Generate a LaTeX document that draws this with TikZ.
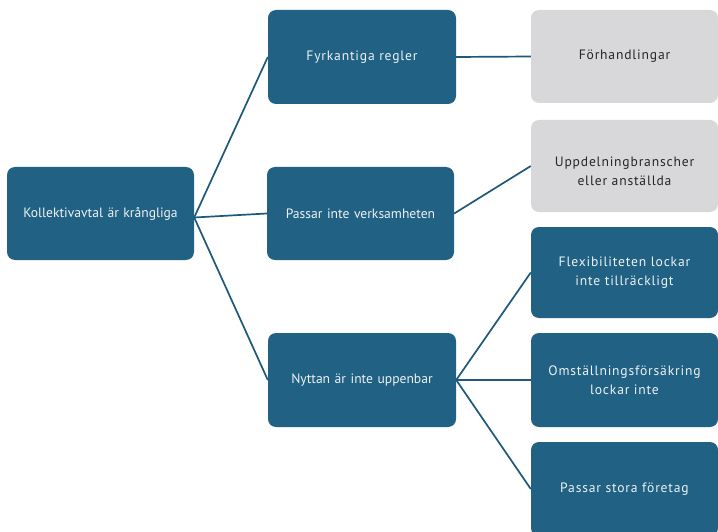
\documentclass[tikz,border=0pt]{standalone}
\usepackage{fontspec}
\setmainfont{PT Sans}
\newfontfamily\spaced[LetterSpace=6]{PT Sans}
\definecolor{boxblue}{HTML}{216183}
\definecolor{boxgray}{HTML}{D8D8DA}
\definecolor{linkblue}{HTML}{1F587A}
\begin{document}
\begin{tikzpicture}[x=1pt,y=-1pt,
  base/.style={rounded corners=8pt, inner sep=4pt, align=center, text width=178pt, font=\fontsize{13.6}{19}\selectfont},
  bluebox/.style={base, fill=boxblue, text=white!92!boxblue},
  graybox/.style={base, fill=boxgray, text=black!85},
  spacedtext/.style={font=\fontsize{13.6}{19}\spaced},
  link/.style={draw=linkblue, line width=1.7pt}]
\useasboundingbox (0,0) rectangle (718,532);
\node[bluebox, minimum width=187pt, minimum height=93pt] (root) at (100.5,213.5) {Kollektivavtal är krångliga};
\node[bluebox, spacedtext, minimum width=188pt, minimum height=94pt] (a) at (362,57) {Fyrkantiga regler};
\node[bluebox, minimum width=187pt, minimum height=93pt] (b) at (360.5,213.5) {Passar inte verksamheten};
\node[bluebox, minimum width=188pt, minimum height=94pt] (c) at (362,380) {Nyttan är inte uppenbar};
\node[graybox, spacedtext, minimum width=187pt, minimum height=93pt] (a1) at (624.5,56.5) {Förhandlingar};
\node[graybox, spacedtext, minimum width=187pt, minimum height=92pt] (b1) at (624.5,166) {};
\node[graybox, spacedtext, anchor=center, fill=none, minimum height=0pt, minimum width=0pt] (b1t) at (624.5,171) {Uppdelningbranscher\\eller anställda};
\node[bluebox, spacedtext, minimum width=187pt, minimum height=91pt] (c1) at (624.5,272.5) {Flexibiliteten lockar\\inte tillräckligt};
\node[bluebox, spacedtext, minimum width=187pt, minimum height=94pt] (c2) at (624.5,380) {Omställningsförsäkring\\lockar inte};
\node[bluebox, spacedtext, minimum width=187pt, minimum height=94pt] (c3) at (624.5,489) {Passar stora företag};
\coordinate (hub) at ([yshift=-4pt]root.east);
\draw[link] (hub) -- (a.west);
\draw[link] (hub) -- (b.west);
\draw[link] (hub) -- (c.west);
\draw[link] (a.east) -- (a1.west);
\draw[link] (b.east) -- (b1.west);
\draw[link] (c.east) -- (c1.west);
\draw[link] (c.east) -- (c2.west);
\draw[link] (c.east) -- (c3.west);
\end{tikzpicture}
\end{document}
